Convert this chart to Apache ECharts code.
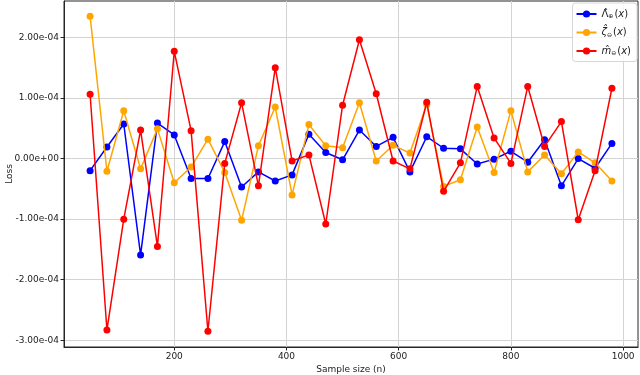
<!DOCTYPE html>
<html>
<head>
<meta charset="utf-8">
<script src="https://cdn.jsdelivr.net/npm/echarts@6/dist/echarts.min.js"></script>
<style>
  html, body { margin: 0; padding: 0; background: #fff; }
  #main { width: 640px; height: 375px; }
</style>
</head>
<body>
<div id="main"></div>
<script>
// sample sizes on the x axis
var sampleSizes = [50, 80, 110, 140, 170, 200, 230, 260, 290, 320, 350, 380, 410, 440, 470, 500,
                   530, 560, 590, 620, 650, 680, 710, 740, 770, 800, 830, 860, 890, 920, 950, 980];

// loss values
var lambdaLoss = [-0.20e-4, 0.19e-4, 0.57e-4, -1.59e-4, 0.585e-4, 0.39e-4, -0.33e-4, -0.33e-4,
                  0.28e-4, -0.47e-4, -0.22e-4, -0.37e-4, -0.27e-4, 0.40e-4, 0.10e-4, -0.02e-4,
                  0.47e-4, 0.20e-4, 0.35e-4, -0.22e-4, 0.36e-4, 0.17e-4, 0.16e-4, -0.09e-4,
                  -0.01e-4, 0.12e-4, -0.06e-4, 0.31e-4, -0.45e-4, 0.00e-4, -0.16e-4, 0.25e-4];
var zetaLoss = [2.35e-4, -0.21e-4, 0.79e-4, -0.17e-4, 0.49e-4, -0.40e-4, -0.14e-4, 0.32e-4,
                -0.23e-4, -1.02e-4, 0.21e-4, 0.85e-4, -0.60e-4, 0.56e-4, 0.21e-4, 0.18e-4,
                0.92e-4, -0.04e-4, 0.22e-4, 0.09e-4, 0.89e-4, -0.46e-4, -0.35e-4, 0.52e-4,
                -0.23e-4, 0.79e-4, -0.22e-4, 0.06e-4, -0.25e-4, 0.11e-4, -0.07e-4, -0.37e-4];
var mLoss = [1.06e-4, -2.83e-4, -1.00e-4, 0.47e-4, -1.45e-4, 1.77e-4, 0.46e-4, -2.85e-4,
             -0.08e-4, 0.92e-4, -0.45e-4, 1.50e-4, -0.04e-4, 0.06e-4, -1.08e-4, 0.88e-4,
             1.96e-4, 1.07e-4, -0.04e-4, -0.17e-4, 0.93e-4, -0.54e-4, -0.07e-4, 1.19e-4,
             0.34e-4, -0.08e-4, 1.19e-4, 0.20e-4, 0.61e-4, -1.01e-4, -0.20e-4, 1.16e-4];

var xTicks = [200, 400, 600, 800, 1000];
var yTicks = [-3e-4, -2e-4, -1e-4, 0, 1e-4, 2e-4];

var seriesNames = ['lambda', 'zeta', 'm'];
var seriesColors = ['#0000ff', '#ffa500', '#ff0000'];
var seriesData = [lambdaLoss, zetaLoss, mLoss];

var FONT = 'DejaVu Sans';

function sci(v) {
    var parts = v.toExponential(2).split('e');
    var e = parseInt(parts[1], 10);
    var a = Math.abs(e);
    return parts[0] + 'e' + (e < 0 ? '-' : '+') + (a < 10 ? '0' : '') + a;
}

var legendText = {
    lambda: '{u|\u039b\u0302}{s|\u2295}{u|(}{i|x}{u|)}',
    zeta: '{i|\u03b6\u0302}{s|\u2296}{u|(}{i|x}{u|)}',
    m: '{i|m\u0302}{s|\u2296}{u|(}{i|x}{u|)}'
};

var myChart = echarts.init(document.getElementById('main'), null, { renderer: 'canvas' });

var option = {
    backgroundColor: '#fff',
    animation: false,
    textStyle: { fontFamily: FONT },
    grid: {
        left: 64, right: 2, top: 1, bottom: 28,
        outerBoundsMode: 'none',
        containLabel: false,
        show: true, borderColor: '#262626', borderWidth: 1, backgroundColor: 'transparent'
    },
    legend: {
        orient: 'vertical',
        right: 3, top: 3,
        padding: [6, 6, 5, 3],
        itemGap: 8,
        itemWidth: 20, itemHeight: 9,
        borderColor: '#d6d6d6', borderWidth: 1, borderRadius: 3,
        backgroundColor: 'rgba(255,255,255,0.85)',
        data: seriesNames,
        formatter: function (name) { return legendText[name]; },
        textStyle: {
            fontFamily: FONT, fontSize: 10, color: '#222',
            rich: {
                u: { fontFamily: FONT, fontSize: 10, color: '#222' },
                i: { fontFamily: FONT, fontSize: 10, fontStyle: 'italic', color: '#222' },
                s: { fontFamily: FONT, fontSize: 6, color: '#222', padding: [5, 1, 0, 0] }
            }
        }
    },
    xAxis: {
        type: 'value',
        min: 3.5, max: 1026.5,
        name: 'Sample size (n)',
        nameLocation: 'middle',
        nameGap: 18,
        nameMoveOverlap: false,
        nameTextStyle: { fontFamily: FONT, fontSize: 9, color: '#222' },
        axisLine: { show: true, onZero: false, lineStyle: { color: '#262626', width: 1 } },
        axisTick: { show: true, length: 3.5, lineStyle: { color: '#262626' }, customValues: xTicks },
        axisLabel: {
            fontFamily: FONT, fontSize: 9, color: '#222', margin: 5, customValues: xTicks,
            formatter: function (v) { return String(v); }
        },
        splitLine: { show: true, lineStyle: { color: '#d3d3d3', width: 1 } }
    },
    yAxis: {
        type: 'value',
        min: -3.11e-4, max: 2.6e-4,
        name: 'Loss',
        nameLocation: 'middle',
        nameGap: 50,
        nameMoveOverlap: false,
        nameTextStyle: { fontFamily: FONT, fontSize: 9, color: '#222' },
        axisLine: { show: true, onZero: false, lineStyle: { color: '#262626', width: 1 } },
        axisTick: { show: true, length: 3.5, lineStyle: { color: '#262626' }, customValues: yTicks },
        axisLabel: { fontFamily: FONT, fontSize: 9, color: '#222', margin: 5, customValues: yTicks, formatter: sci },
        splitLine: { show: true, lineStyle: { color: '#d3d3d3', width: 1 } }
    },
    series: seriesNames.map(function (name, k) {
        return {
            name: name,
            type: 'line',
            data: sampleSizes.map(function (x, i) { return [x, seriesData[k][i]]; }),
            symbol: 'circle',
            symbolSize: 7,
            itemStyle: { color: seriesColors[k] },
            lineStyle: { color: seriesColors[k], width: 1.5 },
            z: 2 + k
        };
    })
};

myChart.setOption(option);
</script>
</body>
</html>
